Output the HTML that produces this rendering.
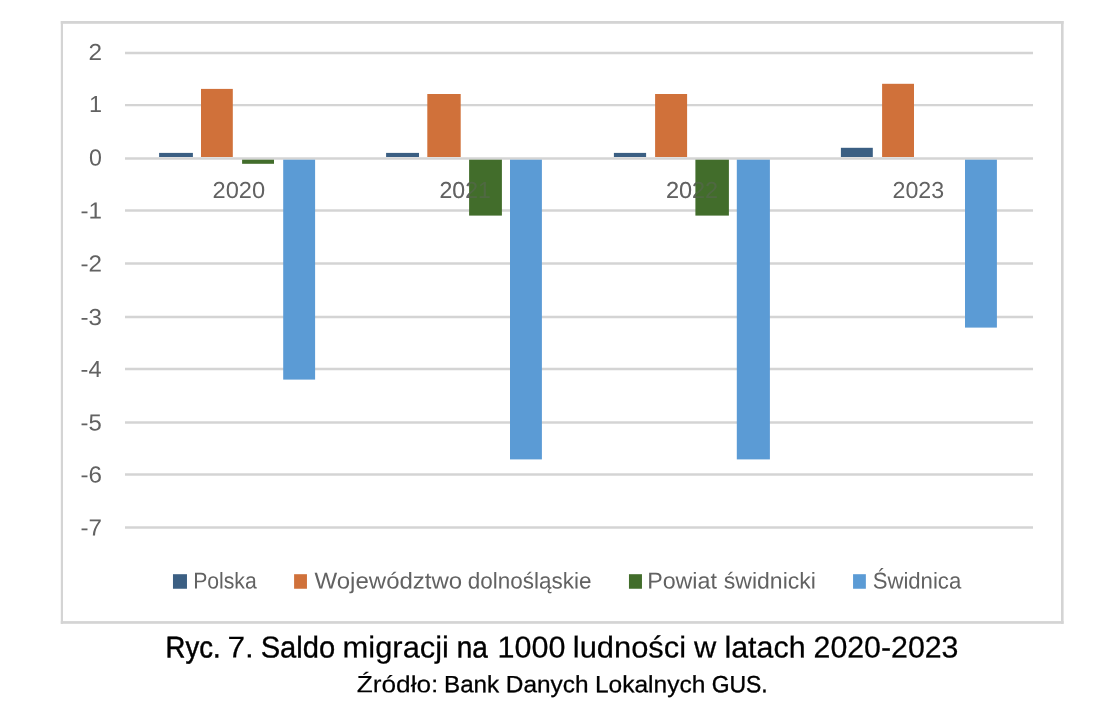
<!DOCTYPE html>
<html lang="pl">
<head>
<meta charset="utf-8">
<title>Ryc. 7. Saldo migracji na 1000 ludności w latach 2020-2023</title>
<style>
html,body{margin:0;padding:0;background:#ffffff;}
body{width:1116px;height:714px;overflow:hidden;position:relative;font-family:"Liberation Sans",sans-serif;}
svg{display:block;position:absolute;left:0;top:0;}
text{font-family:"Liberation Sans",sans-serif;}
.ax{font-size:22.9px;fill:#626262;}
.dg{font-size:23.2px;fill:#626262;}
.cap{font-size:30.2px;fill:#000000;stroke:#000000;}
.src{font-size:23.5px;fill:#000000;stroke:#000000;}
</style>
</head>
<body>
<svg width="1116" height="714" viewBox="0 0 1116 714">
<rect x="0" y="0" width="1116" height="714" fill="#ffffff"/>
<g fill="#d4d4d4">
<rect x="60.80" y="21.00" width="1002.80" height="2.80"/>
<rect x="60.80" y="621.10" width="1002.80" height="2.70"/>
<rect x="60.80" y="21.00" width="2.20" height="602.80"/>
<rect x="1061.00" y="21.00" width="2.60" height="602.80"/>
</g>
<g stroke="#d4d4d4" stroke-width="2.4">
<line x1="125" x2="1033" y1="52.93" y2="52.93"/>
<line x1="125" x2="1033" y1="105.08" y2="105.08"/>
<line x1="125" x2="1033" y1="158.50" y2="158.50"/>
<line x1="125" x2="1033" y1="210.50" y2="210.50"/>
<line x1="125" x2="1033" y1="263.50" y2="263.50"/>
<line x1="125" x2="1033" y1="316.95" y2="316.95"/>
<line x1="125" x2="1033" y1="369.00" y2="369.00"/>
<line x1="125" x2="1033" y1="422.50" y2="422.50"/>
<line x1="125" x2="1033" y1="474.50" y2="474.50"/>
<line x1="125" x2="1033" y1="527.50" y2="527.50"/>
</g>
<g style="filter:grayscale(1)">
<text class="dg" transform="translate(212.53 198.00) rotate(0.03) scale(1.0182 1)">2020</text>
<text class="dg" transform="translate(439.56 198.00) rotate(0.03) scale(0.9929 1)">2021</text>
<text class="dg" transform="translate(665.94 198.00) rotate(0.03) scale(1.0112 1)">2022</text>
<text class="dg" transform="translate(892.50 198.00) rotate(0.03) scale(1.0000 1)">2023</text>
</g>
<rect x="159.10" y="152.90" width="33.80" height="4.10" fill="#3b5f83"/>
<rect x="201.00" y="88.90" width="31.80" height="68.10" fill="#d0713a"/>
<rect x="242.10" y="159.70" width="31.90" height="4.10" fill="#426d2b"/>
<rect x="283.20" y="159.70" width="31.90" height="219.90" fill="#5b9bd5"/>
<rect x="386.10" y="152.90" width="32.90" height="4.10" fill="#3b5f83"/>
<rect x="427.30" y="94.00" width="33.40" height="63.00" fill="#d0713a"/>
<rect x="469.10" y="159.70" width="32.80" height="55.90" fill="#426d2b"/>
<rect x="510.00" y="159.70" width="31.90" height="299.70" fill="#5b9bd5"/>
<rect x="613.90" y="152.90" width="32.20" height="4.10" fill="#3b5f83"/>
<rect x="655.10" y="94.00" width="32.00" height="63.00" fill="#d0713a"/>
<rect x="695.40" y="159.70" width="33.50" height="55.90" fill="#426d2b"/>
<rect x="736.80" y="159.70" width="33.10" height="299.70" fill="#5b9bd5"/>
<rect x="840.90" y="147.80" width="31.90" height="9.20" fill="#3b5f83"/>
<rect x="882.10" y="83.80" width="31.90" height="73.20" fill="#d0713a"/>
<rect x="965.00" y="159.70" width="31.90" height="167.90" fill="#5b9bd5"/>
<g style="opacity:0.42">
<text class="dg" transform="translate(439.56 198.00) rotate(0.03) scale(0.9929 1)">2021</text>
<text class="dg" transform="translate(665.94 198.00) rotate(0.03) scale(1.0112 1)">2022</text>
</g>
<rect x="172.97" y="574.2" width="14.00" height="14.55" fill="#3b5f83"/>
<rect x="294.10" y="574.2" width="12.85" height="14.55" fill="#d0713a"/>
<rect x="628.96" y="574.2" width="13.00" height="14.55" fill="#426d2b"/>
<rect x="853.06" y="574.2" width="12.80" height="14.55" fill="#5b9bd5"/>
<g style="filter:grayscale(1)">
<text class="cap" stroke-width="0.50" transform="translate(165.62 657.50) rotate(0.03) scale(0.9104 1)">Ryc.</text>
<text class="cap" stroke-width="0.18" transform="translate(227.43 657.50) rotate(0.03) scale(1.0476 1)">7.</text>
<text class="cap" stroke-width="0.36" transform="translate(260.65 657.50) rotate(0.03) scale(0.9658 1)">Saldo</text>
<text class="cap" stroke-width="0.23" transform="translate(342.62 657.50) rotate(0.03) scale(1.0224 1)">migracji</text>
<text class="cap" stroke-width="0.46" transform="translate(456.65 657.50) rotate(0.03) scale(0.9254 1)">na</text>
<text class="cap" stroke-width="0.25" transform="translate(497.62 657.50) rotate(0.03) scale(1.0118 1)">1000</text>
<text class="cap" stroke-width="0.23" transform="translate(572.86 657.50) rotate(0.03) scale(1.0211 1)">ludności</text>
<text class="cap" stroke-width="0.23" transform="translate(693.90 657.50) rotate(0.03) scale(1.0207 1)">w</text>
<text class="cap" stroke-width="0.26" transform="translate(724.43 657.50) rotate(0.03) scale(1.0078 1)">latach</text>
<text class="cap" stroke-width="0.27" transform="translate(813.53 657.50) rotate(0.03) scale(1.0037 1)">2020-2023</text>
<text class="src" stroke-width="0.16" transform="translate(356.76 692.20) rotate(0.03) scale(1.1160 1)">Źródło:</text>
<text class="src" stroke-width="0.31" transform="translate(444.04 692.20) rotate(0.03) scale(1.0291 1)">Bank</text>
<text class="src" stroke-width="0.29" transform="translate(505.82 692.20) rotate(0.03) scale(1.0387 1)">Danych</text>
<text class="src" stroke-width="0.28" transform="translate(594.91 692.20) rotate(0.03) scale(1.0445 1)">Lokalnych</text>
<text class="src" stroke-width="0.41" transform="translate(711.63 692.20) rotate(0.03) scale(0.9741 1)">GUS.</text>
<text class="ax" transform="translate(193.15 588.50) rotate(0.03) scale(0.9258 1)">Polska</text>
<text class="ax" transform="translate(314.54 588.50) rotate(0.03) scale(1.0490 1)">Województwo</text>
<text class="ax" transform="translate(467.82 588.50) rotate(0.03) scale(0.9815 1)">dolnośląskie</text>
<text class="ax" transform="translate(647.17 588.50) rotate(0.03) scale(1.0150 1)">Powiat</text>
<text class="ax" transform="translate(723.75 588.50) rotate(0.03) scale(1.0062 1)">świdnicki</text>
<text class="ax" transform="translate(872.63 588.50) rotate(0.03) scale(0.9669 1)">Świdnica</text>
<text class="dg" transform="translate(88.59 59.93) rotate(0.03) scale(1.0476 1)">2</text>
<text class="dg" transform="translate(89.03 112.08) rotate(0.03) scale(1.0100 1)">1</text>
<text class="dg" transform="translate(88.90 165.50) rotate(0.03) scale(1.0000 1)">0</text>
<text class="dg" transform="translate(80.56 218.50) rotate(0.03) scale(1.0432 1)">-1</text>
<text class="dg" transform="translate(80.56 271.50) rotate(0.03) scale(1.0432 1)">-2</text>
<text class="dg" transform="translate(80.56 324.95) rotate(0.03) scale(1.0432 1)">-3</text>
<text class="dg" transform="translate(80.58 377.00) rotate(0.03) scale(1.0158 1)">-4</text>
<text class="dg" transform="translate(80.57 430.50) rotate(0.03) scale(1.0293 1)">-5</text>
<text class="dg" transform="translate(80.56 482.50) rotate(0.03) scale(1.0432 1)">-6</text>
<text class="dg" transform="translate(80.56 535.50) rotate(0.03) scale(1.0432 1)">-7</text>
</g>
</svg>
</body>
</html>
